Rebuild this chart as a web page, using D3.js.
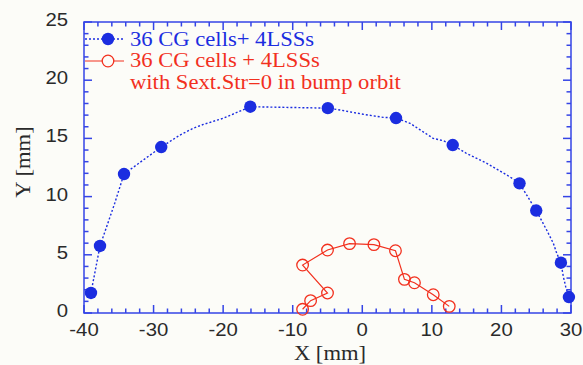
<!DOCTYPE html>
<html>
<head>
<meta charset="utf-8">
<script src="https://cdn.jsdelivr.net/npm/d3@7"></script>
<style>
  body { margin: 0; background: #fcfcf8; }
  svg { display: block; }
</style>
</head>
<body>
<div id="wrapper"></div>
<script>
/////////////////////////////////////////////////
// data /////////////////////////////////////////
/////////////////////////////////////////////////

// dotted blue trace (with unmarked bends)
const blueLine = [
  [-39.0, 1.72], [-37.7, 5.76], [-35.6, 9.4], [-34.25, 11.94], [-28.9, 14.26],
  [-26.2, 15.29], [-24.3, 15.87], [-22.85, 16.2], [-19.98, 16.73], [-16.1, 17.72],
  [-4.95, 17.6], [-3.2, 17.44], [0.15, 17.07], [3.0, 16.81], [4.85, 16.75],
  [6.86, 16.3], [10.2, 15.0], [11.65, 14.8], [13.0, 14.43], [15.0, 13.7],
  [17.9, 12.86], [21.2, 11.7], [22.6, 11.14], [25.0, 8.8], [26.5, 7.13],
  [27.46, 5.99], [27.95, 5.13], [28.55, 4.32], [28.9, 3.12], [29.24, 2.26],
  [29.7, 1.37]
];
const blueDots = [
  [-39.0, 1.72], [-37.7, 5.76], [-34.25, 11.94], [-28.9, 14.26], [-16.1, 17.72],
  [-4.95, 17.6], [4.85, 16.75], [13.0, 14.43], [22.6, 11.14], [25.0, 8.8],
  [28.55, 4.32], [29.7, 1.37]
];
const redPoints = [
  [-8.58, 0.32], [-7.43, 1.06], [-5.0, 1.72], [-8.58, 4.12], [-5.0, 5.41],
  [-1.83, 5.96], [1.67, 5.87], [4.77, 5.35], [6.06, 2.89], [7.5, 2.6],
  [10.2, 1.57], [12.5, 0.57]
];
const xTicks = [-40, -30, -20, -10, 0, 10, 20, 30];
const yTicks = [0, 5, 10, 15, 20, 25];
const legendLabels = ["36 CG cells+ 4LSSs", "36 CG cells + 4LSSs", "with Sext.Str=0 in bump orbit"];

/////////////////////////////////////////////////
// dimensions ///////////////////////////////////
/////////////////////////////////////////////////

const width = 583, height = 365;
const margin = { top: 22, right: 12, bottom: 52, left: 84 };
const boundedWidth = width - margin.left - margin.right;
const boundedHeight = height - margin.top - margin.bottom;

const axisColor = "#3444e6";
const blue = "#1b2de0";
const red = "#f2301e";
const stretchK = 1.13; // the original glyphs are wider than our fonts

const svg = d3.select("#wrapper").append("svg")
  .attr("width", width).attr("height", height)
  .style("background", "#fcfcf8");

const bounds = svg.append("g")
  .attr("transform", `translate(${margin.left},${margin.top})`);

/////////////////////////////////////////////////
// scales ///////////////////////////////////////
/////////////////////////////////////////////////

const xScale = d3.scaleLinear().domain([-40, 30]).range([0, boundedWidth]);
const yScale = d3.scaleLinear().domain([0, 25]).range([boundedHeight, 0]);

const stretch = (sel) => sel.each(function () {
  const w = this.getComputedTextLength();
  d3.select(this).attr("textLength", w * stretchK).attr("lengthAdjust", "spacingAndGlyphs");
});

/////////////////////////////////////////////////
// axes /////////////////////////////////////////
/////////////////////////////////////////////////

const xMinor = d3.range(-40, 31, 2);
const yMinor = d3.range(0, 26, 1);
const isMajorX = (v) => v % 10 === 0;
const isMajorY = (v) => v % 5 === 0;

const frame = bounds.append("g").attr("stroke", axisColor).attr("stroke-width", 1.5);
frame.append("rect")
  .attr("width", boundedWidth).attr("height", boundedHeight)
  .attr("fill", "none");

// inward ticks on all four sides
xMinor.forEach((v) => {
  const len = isMajorX(v) ? 8 : 4.5;
  frame.append("line").attr("x1", xScale(v)).attr("x2", xScale(v))
    .attr("y1", boundedHeight).attr("y2", boundedHeight - len);
  frame.append("line").attr("x1", xScale(v)).attr("x2", xScale(v))
    .attr("y1", 0).attr("y2", len);
});
yMinor.forEach((v) => {
  const len = isMajorY(v) ? 8 : 4.5;
  frame.append("line").attr("y1", yScale(v)).attr("y2", yScale(v))
    .attr("x1", 0).attr("x2", len);
  frame.append("line").attr("y1", yScale(v)).attr("y2", yScale(v))
    .attr("x1", boundedWidth).attr("x2", boundedWidth - len);
});

const tickFont = "'Liberation Sans', Arial, sans-serif";
bounds.append("g").selectAll("text")
  .data(xTicks).join("text")
  .attr("x", (d) => xScale(d))
  .attr("y", boundedHeight + 23)
  .attr("text-anchor", "middle")
  .style("font-family", tickFont).style("font-size", "18px")
  .attr("fill", "#2a2a2a")
  .text((d) => d)
  .call(stretch);

bounds.append("g").selectAll("text")
  .data(yTicks).join("text")
  .attr("x", -16)
  .attr("y", (d) => yScale(d) + 4)
  .attr("text-anchor", "end")
  .style("font-family", tickFont).style("font-size", "18px")
  .attr("fill", "#2a2a2a")
  .text((d) => d)
  .call(stretch);

const serif = "'Liberation Serif', 'Times New Roman', serif";
svg.append("text")
  .attr("x", 330).attr("y", 360)
  .attr("text-anchor", "middle")
  .style("font-family", serif).style("font-size", "20px")
  .attr("fill", "#2a2a2a")
  .text("X [mm]")
  .call(stretch);

svg.append("text")
  .attr("transform", "translate(30,162) rotate(-90)")
  .attr("text-anchor", "middle")
  .style("font-family", serif).style("font-size", "20px")
  .attr("fill", "#2a2a2a")
  .text("Y [mm]")
  .call(stretch);

/////////////////////////////////////////////////
// plotting /////////////////////////////////////
/////////////////////////////////////////////////

const lineGen = d3.line().x((d) => xScale(d[0])).y((d) => yScale(d[1]));

bounds.append("path")
  .datum(blueLine)
  .attr("d", lineGen)
  .attr("fill", "none")
  .attr("stroke", blue)
  .attr("stroke-width", 1.4)
  .attr("stroke-dasharray", "2,2");

bounds.append("g").selectAll("circle")
  .data(blueDots).join("circle")
  .attr("cx", (d) => xScale(d[0]))
  .attr("cy", (d) => yScale(d[1]))
  .attr("r", 6.2)
  .attr("fill", blue);

bounds.append("path")
  .datum(redPoints)
  .attr("d", lineGen)
  .attr("fill", "none")
  .attr("stroke", red)
  .attr("stroke-width", 1.2);

bounds.append("g").selectAll("circle")
  .data(redPoints).join("circle")
  .attr("cx", (d) => xScale(d[0]))
  .attr("cy", (d) => yScale(d[1]))
  .attr("r", 5.8)
  .attr("fill", "none")
  .attr("stroke", red)
  .attr("stroke-width", 1.3);

/////////////////////////////////////////////////
// legend ///////////////////////////////////////
/////////////////////////////////////////////////

const legend = svg.append("g");
legend.append("line")
  .attr("x1", 85).attr("x2", 124).attr("y1", 39).attr("y2", 39)
  .attr("stroke", blue).attr("stroke-width", 1.4).attr("stroke-dasharray", "2,2");
legend.append("circle").attr("cx", 108).attr("cy", 39).attr("r", 6.2).attr("fill", blue);

legend.append("line")
  .attr("x1", 85).attr("x2", 124).attr("y1", 61).attr("y2", 61)
  .attr("stroke", red).attr("stroke-width", 1.2);
legend.append("circle").attr("cx", 108).attr("cy", 61).attr("r", 5.8)
  .attr("fill", "#fcfcf8").attr("stroke", red).attr("stroke-width", 1.3);

legend.selectAll("text.lbl")
  .data(legendLabels).join("text")
  .attr("class", "lbl")
  .attr("x", 130)
  .attr("y", (d, i) => [46, 67, 89][i])
  .style("font-family", serif).style("font-size", "20px")
  .attr("fill", (d, i) => (i === 0 ? blue : red))
  .text((d) => d)
  .call(stretch);
</script>
</body>
</html>
